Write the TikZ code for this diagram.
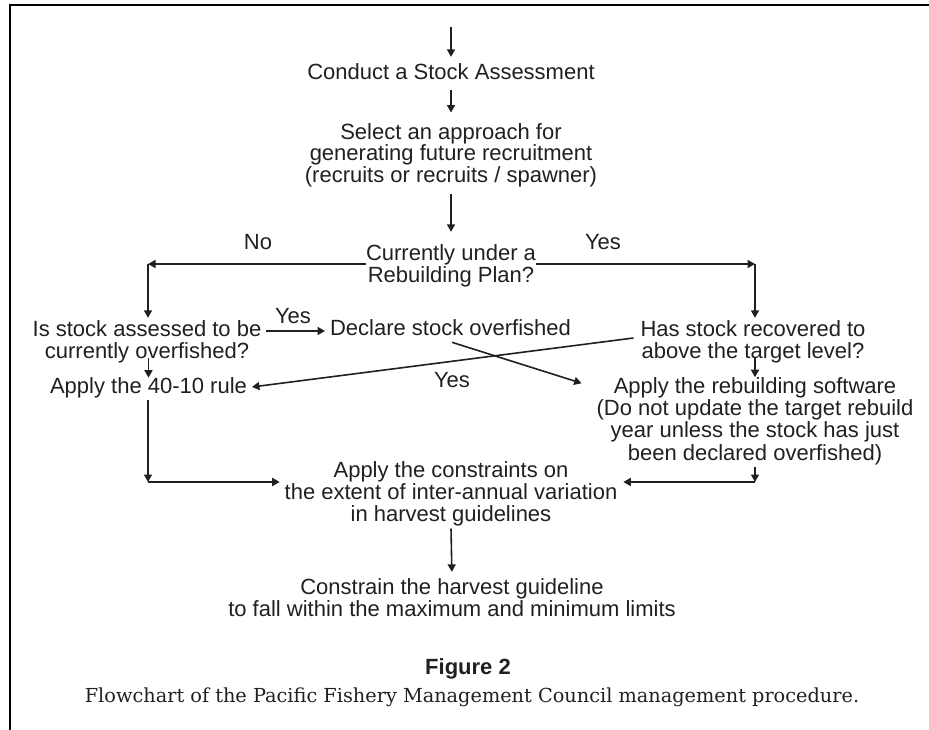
\documentclass[tikz,border=0pt]{standalone}
\usepackage{fontspec}
\setmainfont{Liberation Sans}
\newfontfamily\capfont{DejaVu Serif}
\usetikzlibrary{arrows.meta}
\definecolor{ink}{RGB}{35,31,32}
\begin{document}
\begin{tikzpicture}[x=1pt,y=-1pt,
  txt/.style={inner sep=0pt, outer sep=0pt, align=center, text=ink,
    font=\fontsize{22}{22.3}\selectfont,
    execute at begin node=\strut, execute at end node=\strut},
  arr/.style={draw=ink, line width=1.6pt, -{Triangle[length=7.5pt,width=8pt]}},
]
\useasboundingbox (0,0) rectangle (929,730);
\draw[line width=2.4pt, black] (9,5) -- (929,5);
\draw[line width=2pt, black] (10,5) -- (10,730);

% nodes
\node[txt] (conduct) at (451,75) {Conduct a Stock Assessment};
\node[txt, font=\fontsize{22}{20}\selectfont] (select) at (451,156) {Select an approach for\\generating future recruitment\\(recruits or recruits / spawner)};
\node[txt] (plan) at (451,267) {Currently under a\\Rebuilding Plan?};
\node[txt] (assess) at (147,343) {Is stock assessed to be\\currently overfished?};
\node[txt] (declare) at (450.5,331) {Declare stock overfished};
\node[txt] (recov) at (753,343) {Has stock recovered to\\above the target level?};
\node[txt] (rule) at (148.5,389) {Apply the 40-10 rule};
\node[txt] (soft) at (755,422) {Apply the rebuilding software\\(Do not update the target rebuild\\year unless the stock has just\\been declared overfished)};
\node[txt] (constr) at (451,495) {Apply the constraints on\\the extent of inter-annual variation\\in harvest guidelines};
\node[txt] (limits) at (452,601) {Constrain the harvest guideline\\to fall within the maximum and minimum limits};
\node[txt, font=\fontsize{22}{24}\selectfont\bfseries] (fig) at (468,670) {Figure 2};
\node[inner sep=0pt, text=ink, font=\capfont\fontsize{19.3}{22}\selectfont] (cap) at (472,697) {Flowchart of the Pacific Fishery Management Council management procedure.};

% labels
\node[txt] (no) at (258,245) {No};
\node[txt] (yes1) at (603,245) {Yes};
\node[txt] (yes2) at (293,319) {Yes};
\node[txt] (yes3) at (452,383) {Yes};

% coordinates
\coordinate (start) at (451,27);
\coordinate (nl) at (148,264);
\coordinate (nr) at (755,264);
\coordinate (bl) at (148,482);
\coordinate (br) at (755,482);

% connectors
\draw[arr, shorten >=6.85pt] (start) -- (conduct.north);
\draw[arr, shorten <=3.85pt, shorten >=11pt] (conduct.south) -- (select.north);
\draw[arr, shorten <=6pt, shorten >=12.7pt] (select.south) -- (plan.north);
\draw[arr] (plan.west |- nl) -- (nl);
\draw[arr] (plan.east |- nr) -- (nr);
\draw[arr, shorten >=2.7pt] (nl) -- (nl |- assess.north);
\draw[arr, shorten >=2.7pt] (nr) -- (nr |- recov.north);
\draw[arr, shorten <=5pt, shorten >=5pt] (assess.east |- declare) -- (declare.west);
\draw[arr, shorten <=-7pt] (rule.north |- assess.south) -- (rule.north);
\draw[arr, shorten <=-7pt] (soft.north |- recov.south) -- (soft.north);
\draw[arr] (bl |- rule.south) -- (bl);
\draw[arr, shorten >=5pt] (bl) -- (constr.west |- bl);
\draw[arr] (br |- soft.south) -- (br);
\draw[arr, shorten >=6pt] (br) -- (constr.east |- br);
\draw[arr, shorten >=6.7pt] (constr.south) -- (limits.north);
\draw[arr] ([shift={(-7,-5)}]recov.west) -- ([shift={(5,-2)}]rule.east);
\draw[arr] ([shift={(1.5,0)}]declare.south) -- ([shift={(-15,6)}]soft.north west);
\end{tikzpicture}
\end{document}
